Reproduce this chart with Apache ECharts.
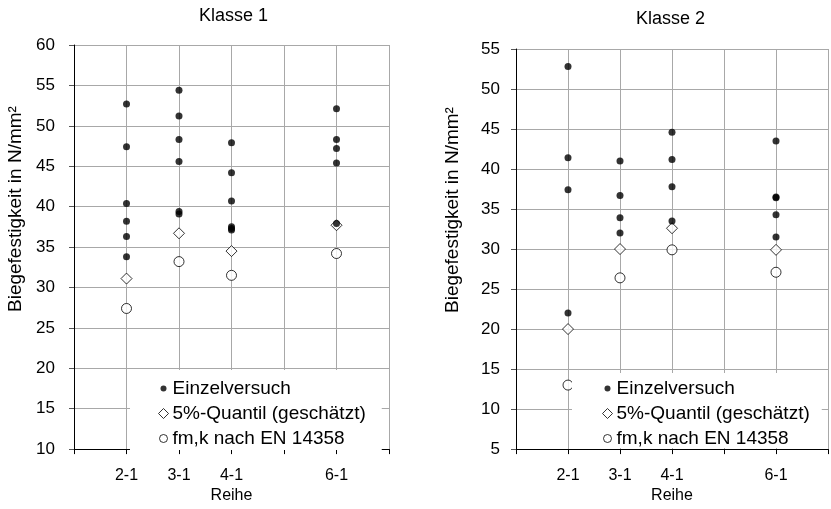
<!DOCTYPE html>
<html>
<head>
<meta charset="utf-8">
<script src="https://cdn.jsdelivr.net/npm/echarts@6/dist/echarts.min.js"></script>
<style>
html,body{margin:0;padding:0;background:#fff;}
#chart{width:831px;height:509px;}
</style>
</head>
<body>
<div id="chart"></div>
<script>
// x tick labels (index = position on the x axis)
const xTickLabels = ["", "2-1", "3-1", "4-1", "", "6-1", ""];
const reihen = ["2-1", "3-1", "4-1", "6-1"];

// Klasse 1
const k1Einzel = [
  [52.7, 47.4, 40.4, 38.2, 36.3, 33.8],
  [54.4, 51.2, 48.3, 45.6, 39.4, 39.1],
  [47.9, 44.2, 40.7, 37.5, 37.3, 37.1],
  [52.1, 48.3, 47.2, 45.4, 37.9]
];
const k1Quantil = [31.1, 36.7, 34.5, 37.7];
const k1Fmk = [27.4, 33.2, 31.5, 34.2];

// Klasse 2
const k2Einzel = [
  [52.8, 41.4, 37.4, 22.0],
  [41.0, 36.7, 33.9, 32.0],
  [44.6, 41.2, 37.8, 33.5],
  [43.5, 36.5, 36.4, 34.3, 31.5]
];
const k2Quantil = [20.0, 30.0, 32.6, 29.9];
const k2Fmk = [13.0, 26.4, 29.9, 27.1];

const titles = ["Klasse 1", "Klasse 2"];
const yName = "Biegefestigkeit in N/mm²";
const xName = "Reihe";
const names = ["Einzelversuch", "5%-Quantil (geschätzt)", "fm,k nach EN 14358"];

const FONT = "Liberation Sans, Arial, sans-serif";

function xPos(r) { return xTickLabels.indexOf(r); }
function pointsFromGroups(groups) {
  const out = [];
  groups.forEach((vals, i) => vals.forEach(v => out.push([xPos(reihen[i]), v])));
  return out;
}
function pointsFromList(vals) {
  return vals.map((v, i) => [xPos(reihen[i]), v]);
}

function xAxis(gi) {
  return {
    type: 'value', gridIndex: gi, min: 0, max: 6, interval: 1,
    name: xName, nameLocation: 'middle', nameGap: 38,
    nameTextStyle: {fontFamily: FONT, fontSize: 16, color: '#000'},
    axisLine: {show: true, onZero: false, lineStyle: {color: '#000', width: 1}},
    axisTick: {show: true, length: 5, lineStyle: {color: '#000'}},
    axisLabel: {fontFamily: FONT, fontSize: 16, color: '#000', margin: 18,
      formatter: v => xTickLabels[v] || ''},
    splitLine: {show: true, lineStyle: {color: '#a8a8a8', width: 1}}
  };
}
function yAxis(gi, min, max, margin, nameGap, shift) {
  return {
    type: 'value', gridIndex: gi, min: min, max: max, interval: 5,
    name: yName, nameLocation: 'middle', nameGap: nameGap,
    nameTextStyle: {fontFamily: FONT, fontSize: 19, color: '#000', padding: [0, 0, 0, shift]},
    axisLine: {show: true, lineStyle: {color: '#000', width: 1}},
    axisTick: {show: true, length: 5, lineStyle: {color: '#555'}},
    axisLabel: {fontFamily: FONT, fontSize: 17, color: '#000', margin: margin},
    splitLine: {show: true, lineStyle: {color: '#a8a8a8', width: 1}}
  };
}
function seriesSet(gi, einzel, quantil, fmk) {
  return [
    {name: names[0], type: 'scatter', xAxisIndex: gi, yAxisIndex: gi,
     symbol: 'circle', symbolSize: 7, itemStyle: {color: '#000'},
     data: pointsFromGroups(einzel), z: 3},
    {name: names[1], type: 'scatter', xAxisIndex: gi, yAxisIndex: gi,
     symbol: 'diamond', symbolSize: 11,
     itemStyle: {color: '#fff', borderColor: '#000', borderWidth: 1},
     data: pointsFromList(quantil), z: 2},
    {name: names[2], type: 'scatter', xAxisIndex: gi, yAxisIndex: gi,
     symbol: 'circle', symbolSize: 10,
     itemStyle: {color: '#fff', borderColor: '#000', borderWidth: 1},
     data: pointsFromList(fmk), z: 2}
  ];
}
const dotIcon = 'path://M0,0M10,10M2,5A3,3 0 1,1 8,5A3,3 0 1,1 2,5Z';
const diamondIcon = 'path://M5,0L10,5L5,10L0,5Z';
const circleIcon = 'path://M0,0M10,10M1,5A4,4 0 1,1 9,5A4,4 0 1,1 1,5Z';
function legend(left, top, padding) {
  return {
    orient: 'vertical', left: left, top: top, padding: padding,
    backgroundColor: '#fff', itemWidth: 10, itemHeight: 10, itemGap: 6,
    selectedMode: false,
    textStyle: {fontFamily: FONT, fontSize: 19, color: '#000', padding: [0, 0, 0, -1]},
    data: [
      {name: names[0], icon: dotIcon, itemStyle: {color: '#000', borderWidth: 0}},
      {name: names[1], icon: diamondIcon, itemStyle: {color: '#fff', borderColor: '#000', borderWidth: 1}},
      {name: names[2], icon: circleIcon, itemStyle: {color: '#fff', borderColor: '#000', borderWidth: 1}}
    ]
  };
}

const chart = echarts.init(document.getElementById('chart'), null, {renderer: 'canvas'});
chart.setOption({
  animation: false,
  backgroundColor: '#fff',
  title: [
    {text: titles[0], left: 199, top: 7, padding: 0,
     textStyle: {fontFamily: FONT, fontSize: 18, fontWeight: 'normal', color: '#000'}},
    {text: titles[1], left: 636, top: 10, padding: 0,
     textStyle: {fontFamily: FONT, fontSize: 18, fontWeight: 'normal', color: '#000'}}
  ],
  grid: [
    {left: 74, top: 45, width: 315, height: 405, containLabel: false},
    {left: 516, top: 49, width: 316, height: 402, containLabel: false}
  ],
  xAxis: [xAxis(0), xAxis(1)],
  yAxis: [yAxis(0, 10, 60, 19, 49, 76), yAxis(1, 5, 55, 16, 54, 78)],
  legend: [
    legend(130, 370, [9, 16, 2, 28]),
    legend(572, 373, [6, 12, 0, 30])
  ],
  series: [].concat(seriesSet(0, k1Einzel, k1Quantil, k1Fmk),
                    seriesSet(1, k2Einzel, k2Quantil, k2Fmk))
});
</script>
</body>
</html>
